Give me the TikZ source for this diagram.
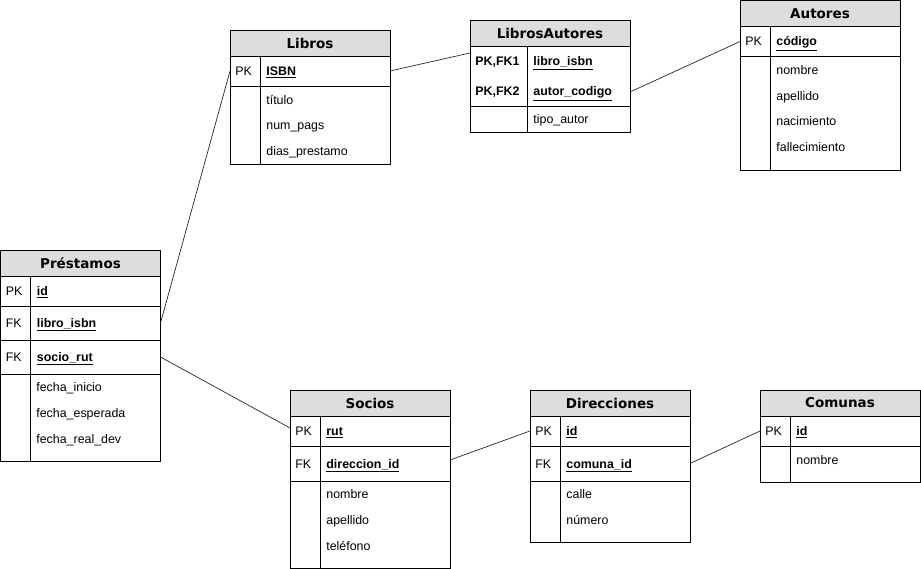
\documentclass[tikz,border=0pt]{standalone}
\usepackage{fontspec}
\setmainfont{Liberation Sans}
\newfontfamily\headfam{DejaVu Sans}
\usepackage{tikz}
\usetikzlibrary{positioning}

\definecolor{hdrgray}{RGB}{221,221,221}
\newcommand{\fieldfont}{\fontsize{12.4}{14}\selectfont}
\newcommand{\headfont}{\headfam\bfseries\fontsize{13.5}{16}\selectfont}
\newcommand{\keyname}[1]{\underline{\textbf{#1}}}

\begin{document}
\begin{tikzpicture}[x=1pt, y=-1pt,
    tabhead/.style={draw, fill=hdrgray, minimum width=160pt, minimum height=26pt,
        inner sep=0pt, outer sep=0pt, anchor=north west, font=\headfont},
    tabpart/.style={draw, minimum width=160pt, inner sep=0pt, outer sep=0pt},
    keylbl/.style={anchor=base west, inner sep=0pt, font=\fieldfont},
    fld/.style={anchor=base west, inner sep=0pt, font=\fieldfont},
    rel/.style={draw=black!85, line width=0.7pt},
    every path/.style={line width=0.8pt}]
    \useasboundingbox (0,0) rectangle (921,569);

    % Libros
    \node[tabhead] (libros) at (230,30) {Libros};
    \node[tabpart, minimum height=30pt, below=0pt of libros] (librosPK) {};
    \node[tabpart, minimum height=78pt, below=0pt of librosPK] (librosRest) {};
    \draw ([xshift=30pt]librosPK.north west) -- ([xshift=30pt]librosRest.south west);
    \node[keylbl] (librosPKk) at ([shift={(5,4.5)}]librosPK.west) {PK};
    \node[fld] (librosIsbn) at ([shift={(36,4.5)}]librosPK.west) {\keyname{ISBN}};
    \node[fld] (librosTitulo) at (266,104.5) {título};
    \node[fld] (librosPags) at (266,130) {num\_pags};
    \node[fld] (librosDias) at (266,156) {dias\_prestamo};

    % LibrosAutores
    \node[tabhead] (la) at (470,20) {LibrosAutores};
    \node[tabpart, minimum height=60pt, below=0pt of la] (laKeys) {};
    \node[tabpart, minimum height=26pt, below=0pt of laKeys] (laRest) {};
    \draw ([xshift=57pt]laKeys.north west) -- ([xshift=57pt]laRest.south west);
    \node[keylbl, font=\fieldfont\bfseries] (laFKa) at (475,66) {PK,FK1};
    \node[keylbl, font=\fieldfont\bfseries] (laFKb) at (475,96) {PK,FK2};
    \node[fld] (laIsbn) at (533,66) {\keyname{libro\_isbn}};
    \node[fld] (laAutor) at (533,96) {\keyname{autor\_codigo}};
    \node[fld] (laTipo) at (533,123.5) {tipo\_autor};

    % Autores
    \node[tabhead] (aut) at (740,0.5) {Autores};
    \node[tabpart, minimum height=30pt, below=0pt of aut] (autPK) {};
    \node[tabpart, minimum height=113.5pt, below=0pt of autPK] (autRest) {};
    \draw ([xshift=30pt]autPK.north west) -- ([xshift=30pt]autRest.south west);
    \node[keylbl] (autPKk) at ([shift={(5,4.5)}]autPK.west) {PK};
    \node[fld] (autCodigo) at ([shift={(36,4.5)}]autPK.west) {\keyname{código}};
    \node[fld] (autNombre) at (776,74.5) {nombre};
    \node[fld] (autApellido) at (776,100.5) {apellido};
    \node[fld] (autNac) at (776,126) {nacimiento};
    \node[fld] (autFall) at (776,152) {fallecimiento};

    % Préstamos
    \node[tabhead] (prest) at (0.5,250) {Préstamos};
    \node[tabpart, minimum height=30pt, below=0pt of prest] (prestPK) {};
    \node[tabpart, minimum height=34pt, below=0pt of prestPK] (prestLibro) {};
    \node[tabpart, minimum height=34pt, below=0pt of prestLibro] (prestSocio) {};
    \node[tabpart, minimum height=87pt, below=0pt of prestSocio] (prestRest) {};
    \draw ([xshift=30pt]prestPK.north west) -- ([xshift=30pt]prestRest.south west);
    \node[keylbl] (prestPKk) at ([shift={(5,4.5)}]prestPK.west) {PK};
    \node[keylbl] (prestFKa) at ([shift={(5,4.5)}]prestLibro.west) {FK};
    \node[keylbl] (prestFKb) at ([shift={(5,4.5)}]prestSocio.west) {FK};
    \node[fld] (prestId) at ([shift={(36,4.5)}]prestPK.west) {\keyname{id}};
    \node[fld] (prestIsbn) at ([shift={(36,4.5)}]prestLibro.west) {\keyname{libro\_isbn}};
    \node[fld] (prestRut) at ([shift={(36,4.5)}]prestSocio.west) {\keyname{socio\_rut}};
    \node[fld] (prestIni) at (36,391.5) {fecha\_inicio};
    \node[fld] (prestEsp) at (36,417.5) {fecha\_esperada};
    \node[fld] (prestDev) at (36,443.5) {fecha\_real\_dev};

    % Socios
    \node[tabhead] (soc) at (290,390) {Socios};
    \node[tabpart, minimum height=30pt, below=0pt of soc] (socPK) {};
    \node[tabpart, minimum height=35pt, below=0pt of socPK] (socFK) {};
    \node[tabpart, minimum height=87pt, below=0pt of socFK] (socRest) {};
    \draw ([xshift=30pt]socPK.north west) -- ([xshift=30pt]socRest.south west);
    \node[keylbl] (socPKk) at ([shift={(5,4.5)}]socPK.west) {PK};
    \node[keylbl] (socFKk) at ([shift={(5,4.5)}]socFK.west) {FK};
    \node[fld] (socRut) at ([shift={(36,4.5)}]socPK.west) {\keyname{rut}};
    \node[fld] (socDir) at ([shift={(36,4.5)}]socFK.west) {\keyname{direccion\_id}};
    \node[fld] (socNombre) at (326,498.5) {nombre};
    \node[fld] (socApellido) at (326,524.5) {apellido};
    \node[fld] (socTel) at (326,550.5) {teléfono};

    % Direcciones
    \node[tabhead] (dir) at (530,390) {Direcciones};
    \node[tabpart, minimum height=30pt, below=0pt of dir] (dirPK) {};
    \node[tabpart, minimum height=35pt, below=0pt of dirPK] (dirFK) {};
    \node[tabpart, minimum height=61pt, below=0pt of dirFK] (dirRest) {};
    \draw ([xshift=30pt]dirPK.north west) -- ([xshift=30pt]dirRest.south west);
    \node[keylbl] (dirPKk) at ([shift={(5,4.5)}]dirPK.west) {PK};
    \node[keylbl] (dirFKk) at ([shift={(5,4.5)}]dirFK.west) {FK};
    \node[fld] (dirId) at ([shift={(36,4.5)}]dirPK.west) {\keyname{id}};
    \node[fld] (dirCom) at ([shift={(36,4.5)}]dirFK.west) {\keyname{comuna\_id}};
    \node[fld] (dirCalle) at (566,498.5) {calle};
    \node[fld] (dirNum) at (566,524.5) {número};

    % Comunas
    \node[tabhead] (com) at (760,390) {Comunas};
    \node[tabpart, minimum height=30pt, below=0pt of com] (comPK) {};
    \node[tabpart, minimum height=36pt, below=0pt of comPK] (comRest) {};
    \draw ([xshift=30pt]comPK.north west) -- ([xshift=30pt]comRest.south west);
    \node[keylbl] (comPKk) at ([shift={(5,4.5)}]comPK.west) {PK};
    \node[fld] (comId) at ([shift={(36,4.5)}]comPK.west) {\keyname{id}};
    \node[fld] (comNombre) at (796,464.5) {nombre};

    % relations
    \draw[rel] (librosPK.west) -- (prestLibro.east);
    \draw[rel] (librosPK.east) -- ([yshift=-7pt]laKeys.north west);
    \draw[rel] ([yshift=-46pt]laKeys.north east) -- (autPK.west);
    \draw[rel] (prestSocio.east) -- ([yshift=-12pt]socPK.north west);
    \draw[rel] ([yshift=-14pt]socFK.north east) -- (dirPK.west);
    \draw[rel] (dirFK.east) -- (comPK.west);
\end{tikzpicture}
\end{document}
